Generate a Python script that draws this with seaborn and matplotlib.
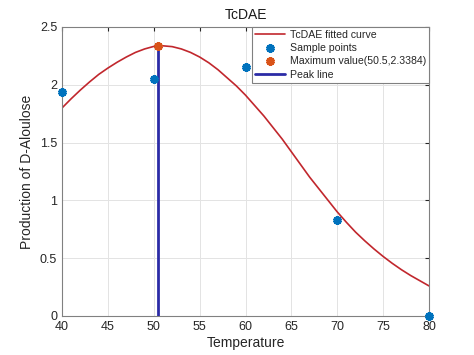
import numpy as np
import pandas as pd
import matplotlib
matplotlib.use("Agg")
import matplotlib.pyplot as plt
import seaborn as sns

# fitted curve at each degree
curve_temp = [40, 41, 42, 43, 44, 45, 46, 47, 48, 49, 50, 50.5, 51, 52, 53,
              54, 55, 56, 57, 58, 59, 60, 61, 62, 63, 64, 65, 66, 67, 68,
              69, 70, 71, 72, 73, 74, 75, 76, 77, 78, 79, 80]
curve_prod = [1.80, 1.88, 1.955, 2.025, 2.09, 2.145, 2.195, 2.24, 2.28, 2.31,
              2.332, 2.338, 2.337, 2.33, 2.31, 2.28, 2.24, 2.19, 2.13, 2.06,
              1.99, 1.91, 1.82, 1.73, 1.63, 1.53, 1.42, 1.31, 1.20, 1.10,
              1.00, 0.90, 0.81, 0.725, 0.65, 0.58, 0.515, 0.455, 0.40, 0.35,
              0.305, 0.26]

# measured samples
sample_temp = [40, 50, 60, 70, 80]
sample_prod = [1.94, 2.05, 2.155, 0.83, 0.0]

peak_temp = 50.5
peak_prod = 2.3384

sns.set_style("white")
plt.rcParams["font.family"] = ["Liberation Sans", "DejaVu Sans"]

curve = pd.DataFrame({"temp": curve_temp, "prod": curve_prod})
samples = pd.DataFrame({"temp": sample_temp, "prod": sample_prod})

fig = plt.figure(figsize=(4.74, 3.55), dpi=100)
ax = fig.add_axes([0.131, 0.110, 0.774, 0.814])

sns.lineplot(data=curve, x="temp", y="prod", color="#c1272d", lw=1.2,
             label="TcDAE fitted curve", ax=ax)
ax.plot(samples["temp"], samples["prod"], ls="none", marker=(6, 2, 0),
        ms=6, mew=2.4, color="#0072bd", label="Sample points", clip_on=False,
        zorder=6)
ax.plot([peak_temp], [peak_prod], ls="none", marker=(6, 2, 0), ms=6,
        mew=2.4, color="#d95319", label="Maximum value(50.5,2.3384)",
        zorder=6)
ax.plot([peak_temp, peak_temp], [0, peak_prod], color="#2b2ba6", lw=2,
        label="Peak line", zorder=4)

ax.set_xlim(40, 80)
ax.set_ylim(0, 2.5)
ax.set_xticks(np.arange(40, 81, 5))
ax.set_yticks([0, 0.5, 1, 1.5, 2, 2.5])
ax.set_yticklabels(["0", "0.5", "1", "1.5", "2", "2.5"])
ax.grid(True, color="#e3e3e3", lw=0.7)
ax.tick_params(direction="in", length=3, labelsize=9, colors="#262626",
               top=True, right=True, labeltop=False, labelright=False)
for s in ax.spines.values():
    s.set_color("#808080")
    s.set_linewidth(0.8)

ax.set_title("TcDAE", fontsize=10, color="#1a1a1a", pad=6)
ax.set_xlabel("Temperature", fontsize=10, color="#262626", labelpad=2)
ax.set_ylabel("Production of D-Aloulose", fontsize=10, color="#262626",
              labelpad=4)

leg = ax.legend(loc="upper right", fontsize=7.6, frameon=True, fancybox=False,
                framealpha=1, borderaxespad=0, borderpad=0.3, labelspacing=0.3,
                handlelength=2.8, handletextpad=0.45)
leg.get_frame().set_edgecolor("#808080")
leg.get_frame().set_linewidth(0.8)

fig.savefig("out.png", dpi=100)
